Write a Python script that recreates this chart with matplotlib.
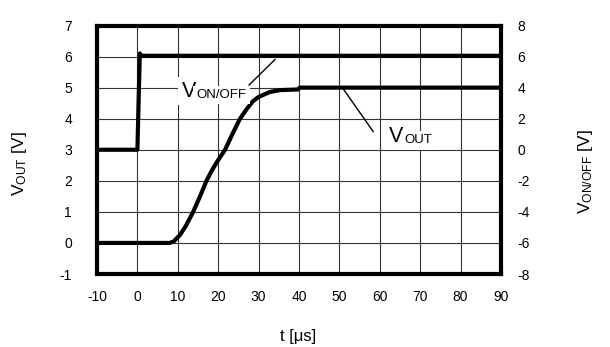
import matplotlib
matplotlib.use("Agg")
import matplotlib.pyplot as plt

plt.rcParams['font.family'] = ['Liberation Sans', 'DejaVu Sans']
plt.rcParams['mathtext.fontset'] = 'custom'
plt.rcParams['mathtext.rm'] = 'Liberation Sans'
plt.rcParams['mathtext.it'] = 'Liberation Sans'
plt.rcParams['axes.unicode_minus'] = False

# V_OUT (left axis)
t_out = [-10, 8, 9, 10.5, 12, 13.8, 15.5, 17.1, 18.5, 20, 21.7, 23.5, 25.4, 27,
         28.5, 30, 32.8, 35.3, 39.7, 40.2, 90]
v_out = [0, 0, 0.05, 0.25, 0.55, 1.0, 1.5, 2.0, 2.35, 2.67, 3.0, 3.5, 4.0, 4.3,
         4.55, 4.7, 4.86, 4.92, 4.94, 5.0, 5.0]

# V_ON/OFF (right axis)
t_on = [-10, 0, 0.6, 1.0, 90]
v_on = [0, 0, 6.2, 6.05, 6.05]

x_ticks = list(range(-10, 100, 10))
y_ticks = list(range(-1, 8))
y2_ticks = list(range(-8, 10, 2))

fig = plt.figure(figsize=(6.1, 3.47), dpi=100)
ax = fig.add_axes([97/610, 1-274/347, 404/610, 248.5/347])
ax2 = ax.twinx()

ax.plot(t_out, v_out, color='black', lw=3, solid_capstyle='butt', zorder=3)
ax2.plot(t_on, v_on, color='black', lw=3, solid_capstyle='butt')

ax.set_xlim(-10, 90)
ax.set_ylim(-1, 7)
ax2.set_ylim(-8, 8)
ax.set_xticks(x_ticks)
ax.set_yticks(y_ticks)
ax2.set_yticks(y2_ticks)

ax.grid(True, color='#333333', lw=0.8)
ax.set_axisbelow(True)

ax.tick_params(axis='both', length=0, labelsize=10)
ax.tick_params(axis='y', pad=18)
ax.tick_params(axis='x', pad=11.5)
ax2.tick_params(axis='y', length=0, labelsize=10, pad=12)

for s in ax.spines.values():
    s.set_linewidth(3)
for s in ax2.spines.values():
    s.set_visible(False)

ax.set_xlabel('t [μs]', fontsize=12, va='center')
ax.xaxis.set_label_coords(0.498, -0.2535)
ax.set_ylabel(r'V$_{\mathrm{OUT}}$ [V]', fontsize=12.5, va='center')
ax.yaxis.set_label_coords(-0.193, 0.443)
ax2.set_ylabel(r'V$_{\mathrm{ON/OFF}}$ [V]', fontsize=12.5, va='center')
ax2.yaxis.set_label_coords(1.208, 0.412)


def sub_label(x, y, main, sub):
    box = dict(fc='white', ec='none', pad=2.5)
    ax.text(x, y, main, fontsize=15.5, ha='left', va='baseline', bbox=box, zorder=4)
    ax.annotate(sub, xy=(x, y), xytext=(10.8, -0.8), textcoords='offset points',
                fontsize=9.5, ha='left', va='baseline', bbox=box, zorder=4)


# labels with leader lines
ax.annotate('', xy=(34.1, 5.91), xytext=(27.6, 5.08),
            arrowprops=dict(arrowstyle='-', lw=1, color='black', shrinkA=0, shrinkB=0))
sub_label(11.0, 4.70, 'V', 'ON/OFF')
ax.annotate('', xy=(51.0, 4.95), xytext=(58.4, 3.58),
            arrowprops=dict(arrowstyle='-', lw=1, color='black', shrinkA=0, shrinkB=0))
sub_label(62.3, 3.25, 'V', 'OUT')

fig.savefig('out.png', dpi=100)
